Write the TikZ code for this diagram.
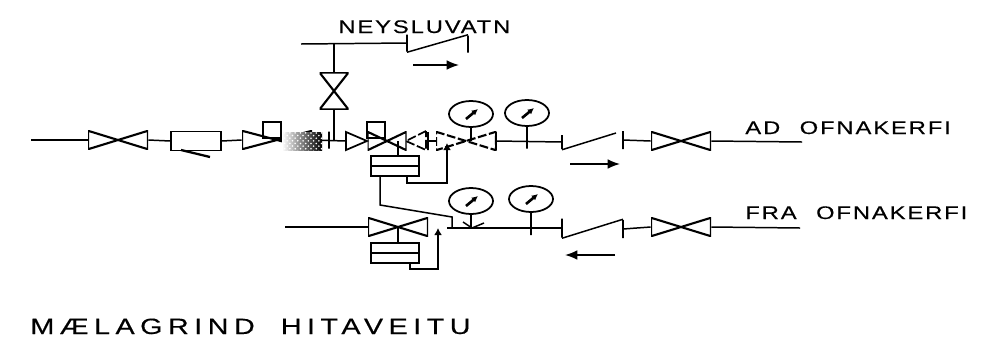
\documentclass[tikz,border=0pt]{standalone}
\usepackage{fontspec}
\usepackage{graphicx}
\setmainfont[LetterSpace=19,FakeBold=0.3]{Liberation Sans}
\newfontfamily\widefont[LetterSpace=8,FakeBold=0.3]{Liberation Sans}
\newcommand{\stretched}[1]{\scalebox{1.3}[1]{#1}}
\usetikzlibrary{shapes.geometric,arrows.meta,patterns}
\tikzset{
  pipe/.style={line width=0.85pt},
  flow/.style={line width=0.85pt,-{Latex[length=7pt,width=5.5pt]}},
  impulse/.style={line width=0.95pt,-{Latex[length=4pt,width=4.5pt]}},
  valve/.style={minimum width=#1*0.02cm,minimum height=0.37cm,inner sep=0pt,
    path picture={\draw[line width=1.2pt]
      (path picture bounding box.north west) -- (path picture bounding box.south east)
      -- (path picture bounding box.north east) -- (path picture bounding box.south west) -- cycle;}},
  valve/.default=60,
  brokenvalve/.style={minimum width=#1*0.02cm,minimum height=0.37cm,inner sep=0pt,
    path picture={\draw[line width=1.2pt,dash pattern=on 5pt off 1.5pt]
      (path picture bounding box.north west) -- (path picture bounding box.south east)
      -- (path picture bounding box.north east) -- (path picture bounding box.south west) -- cycle;}},
  brokenvalve/.default=60,
  uprightvalve/.style={minimum width=0.58cm,minimum height=0.74cm,inner sep=0pt,
    path picture={\draw[line width=1.2pt]
      (path picture bounding box.north west) -- (path picture bounding box.north east)
      -- (path picture bounding box.south west) -- (path picture bounding box.south east) -- cycle;}},
  tick/.style={draw,line width=0.85pt,inner sep=0pt,minimum width=0pt,minimum height=0.34cm},
  actuator/.style={draw,line width=0.85pt,inner sep=0pt,minimum width=0.36cm,minimum height=0.32cm},
  strainer/.style={draw,line width=0.85pt,inner sep=0pt,minimum width=1cm,minimum height=0.38cm},
  regulator/.style={draw,line width=0.95pt,inner sep=0pt,minimum width=0.96cm,minimum height=0.39cm,
    path picture={\draw[line width=0.85pt]
      (path picture bounding box.west) -- (path picture bounding box.east);}},
  gauge/.style={draw,ellipse,line width=1pt,inner sep=0pt,minimum width=0.88cm,minimum height=0.52cm,
    path picture={\draw[line width=1.5pt,-{Latex[length=3.5pt,width=3.5pt]},shift={(path picture bounding box.center)}]
      (-5,5) -- (7,-5);}},
  caption/.style={inner sep=0pt,anchor=base west,font=\widefont\fontsize{10.4}{12}\selectfont}
}
\begin{document}
\begin{tikzpicture}[x=0.02cm,y=-0.02cm]
\useasboundingbox (0,0) rectangle (1000,349);
% supply line
\coordinate (in) at (31,140);
\node [valve] (v1) at (118,140) {};
\node [strainer] (filter) at (196,141) {};
\node [valve=70] (v2) at (277,140) {};
\node [actuator] (a2) at (272,130) {};
\node [tick] (t0) at (329,140) {};
\coordinate (tee) at (334,141);
\coordinate (j3) at (346,141);
\node [valve=39] (v3) at (387,141) {};
\node [actuator] (a3) at (376,130) {};
\node [regulator] (r3) at (395,166) {};
\node [tick,minimum height=0.36cm] (t1) at (428,141) {};
\node [brokenvalve] (v4) at (466,141) {};
\node [tick,minimum height=0.38cm] (t2) at (496,141) {};
\node [gauge] (g1) at (471,114) {};
\node [gauge] (g2) at (527,113) {};
\coordinate (g1s) at (471,141);
\coordinate (g2s) at (527,141);
\node [tick,minimum height=0.26cm] (t3) at (527,142) {};
\node [tick,minimum height=0.28cm] (c1a) at (562,142) {};
\node [tick,minimum height=0.36cm] (c1b) at (623,140) {};
\node [valve] (v5) at (681,141) {};
\coordinate (out1) at (802,142);
\draw [pipe] (in) -- (v1.west);
\draw [pipe] (v1.east) -- (filter.west);
\draw [pipe] (filter.east) -- (v2.west);
\draw [pipe] (v2.east) -- (j3);
\draw [pipe] (t2) -- (c1a);
\draw [pipe] (c1b) -- (v5.west);
\draw [pipe] (v5.east) -- (out1);
\draw [pipe] (t1) -- (v4.west);
\draw [pipe] (g1.south) -- (g1s);
\draw [pipe] (g2.south) -- (g2s);
\draw [pipe] (c1a.south) -- (616,133);
\draw [line width=1.3pt] (181,150) -- (210,157);
% half valves of the group behind the tee
\draw [line width=1pt] (346,132) -- (367,141) -- (346,150) -- cycle;
\draw [line width=1pt,dash pattern=on 5pt off 1.5pt] (426,131) -- (406,141) -- (426,150) -- cycle;
% dark patch on the second valve
\node [inner sep=0pt,minimum width=0.8cm,minimum height=0.36cm,left color=white,right color=black,
  postaction={pattern=crosshatch dots,pattern color=white}] (patch) at (302,141) {};
% tap water branch
\node [uprightvalve] (v6) at (334,91) {};
\coordinate (top) at (334,44);
\coordinate (w0) at (301,44);
\node [tick] (c2a) at (407,43) {};
\node [tick] (c2b) at (468,44) {};
\draw [pipe] (tee) -- (v6.south);
\draw [pipe] (v6.north) -- (top);
\draw [pipe] (w0) -- (c2a);
\draw [pipe] (c2a.south) -- (c2b.north);
\coordinate (f1a) at (413,65);
\coordinate (f1b) at (459,65);
\draw [flow] (f1a) -- (f1b);
\coordinate (f2a) at (570,164);
\coordinate (f2b) at (620,164);
\draw [flow] (f2a) -- (f2b);
% return line
\coordinate (ret) at (285,227);
\node [valve] (v7) at (398,227) {};
\node [regulator] (r7) at (395,253) {};
\node [gauge] (g3) at (471,201) {};
\node [gauge] (g4) at (531,199) {};
\coordinate (g3s) at (471,227);
\coordinate (g4s) at (531,227);
\node [tick,minimum height=0.2cm] (t4) at (531,230) {};
\node [tick,minimum height=0.38cm] (c3a) at (562,228) {};
\node [tick,minimum height=0.36cm] (c3b) at (623,229) {};
\node [valve] (v8) at (681,227) {};
\coordinate (j7) at (447,228);
\coordinate (out2) at (800,228);
\draw [pipe] (ret) -- (v7.west);
\draw [pipe] (j7) -- (c3a);
\draw [pipe] (c3b) -- (v8.west);
\draw [pipe] (v8.east) -- (out2);
\draw [pipe] (g3.south) -- (g3s);
\draw [pipe] (g4.south) -- (g4s);
\draw [pipe] (c3a.south) -- (c3b.north);
\draw [pipe] (463,222) -- (472,228) -- (484,223);
\coordinate (f3a) at (615,255);
\coordinate (f3b) at (565,255);
\draw [flow] (f3a) -- (f3b);
% impulse lines
\coordinate (s3) at (398,141);
\coordinate (s7) at (398,227);
\draw [pipe] (s3) -- (r3.north -| s3);
\draw [pipe] (s7) -- (r7.north -| s7);
\draw [impulse] (407,176) -- (407,183) -- (447,183) -- (447,143);
\draw [pipe] (380,176) -- (380,205) -- (452,217) -- (452,227);
\draw [impulse] (410,263) -- (410,269) -- (438,269) -- (438,228);
% texts
\node [caption] (n1) at (338,33) {\stretched{NEYSLUVATN}};
\node [caption] (n2) at (745,134) {\stretched{AD\hspace{4.8pt} OFNAKERFI}};
\node [caption] (n3) at (745,219) {\stretched{FRA\hspace{4.8pt} OFNAKERFI}};
\node [inner sep=0pt,anchor=base west,font=\fontsize{12.6}{14}\selectfont] (n4) at (30,334) {\stretched{MÆLAGRIND\hspace{5.5pt} HITAVEITU}};
\end{tikzpicture}
\end{document}
